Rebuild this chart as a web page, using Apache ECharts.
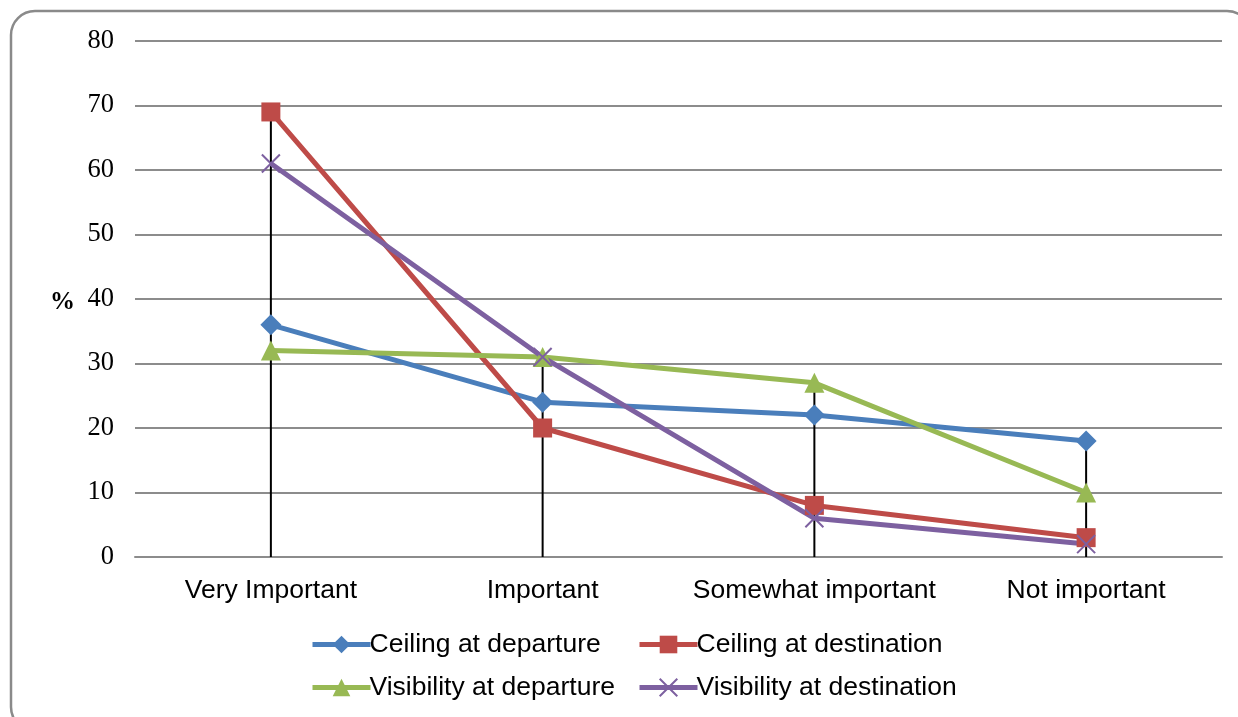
<!DOCTYPE html>
<html>
<head>
<meta charset="utf-8">
<script src="https://cdn.jsdelivr.net/npm/echarts@6/dist/echarts.min.js"></script>
<style>
  html, body { margin: 0; padding: 0; background: #ffffff; }
  #chart { width: 1238px; height: 717px; }
</style>
</head>
<body>
<div id="chart"></div>
<script>
// Importance ratings (%) per category
const categories = ['Very Important', 'Important', 'Somewhat important', 'Not important'];
const ceilingDeparture = [36, 24, 22, 18];
const ceilingDestination = [69, 20, 8, 3];
const visibilityDeparture = [32, 31, 27, 10];
const visibilityDestination = [61, 31, 6, 2];
const yTicks = [0, 10, 20, 30, 40, 50, 60, 70, 80];

// Drop lines run from each category's highest value down to zero
const dropTops = categories.map((_, i) =>
  Math.max(ceilingDeparture[i], ceilingDestination[i], visibilityDeparture[i], visibilityDestination[i]));

const crossPath = 'path://M0,0L10,10M10,0L0,10';

const chart = echarts.init(document.getElementById('chart'));

const sansFont = '"Liberation Sans", Arial, sans-serif';
const serifFont = '"Liberation Serif", "Times New Roman", serif';

function lineSeries(name, data, color, symbol, size, extraItem) {
  return {
    name: name,
    type: 'line',
    data: data,
    symbol: symbol,
    symbolSize: size,
    z: 3,
    lineStyle: { color: color, width: 5 },
    itemStyle: Object.assign({ color: color }, extraItem || {}),
    emphasis: { disabled: true }
  };
}

const legendCommon = {
  orient: 'vertical',
  top: 631,
  padding: 0,
  itemWidth: 58,
  itemHeight: 22,
  itemGap: 16,
  lineStyle: { width: 5 },
  textStyle: { fontFamily: sansFont, fontSize: 26.5, color: '#000000', padding: [0, 0, 0, -6] }
};

chart.setOption({
  animation: false,
  backgroundColor: '#ffffff',
  graphic: [{
    type: 'rect',
    shape: { x: 11, y: 11, width: 1240, height: 720, r: 24 },
    style: { fill: 'none', stroke: '#8a8a8a', lineWidth: 2.5 },
    z: -1,
    silent: true
  }, {
    type: 'text',
    left: 50,
    top: 290,
    style: { text: '%', font: 'bold 25px ' + serifFont, fill: '#000000' }
  }],
  grid: { left: 135, right: 16, top: 41, bottom: 160 },
  legend: [
    Object.assign({ left: 310, data: ['Ceiling at departure', 'Visibility at departure'] }, legendCommon),
    Object.assign({ left: 637, data: ['Ceiling at destination', 'Visibility at destination'] }, legendCommon)
  ],
  xAxis: {
    type: 'category',
    data: categories,
    boundaryGap: true,
    axisLine: { lineStyle: { color: '#8c8c8c', width: 2 } },
    axisTick: { show: false },
    axisLabel: { interval: 0, fontFamily: sansFont, fontSize: 26.5, color: '#000000', margin: 20 }
  },
  yAxis: {
    type: 'value',
    min: yTicks[0],
    max: yTicks[yTicks.length - 1],
    interval: 10,
    axisLine: { show: false },
    axisTick: { show: false },
    splitLine: { lineStyle: { color: '#8c8c8c', width: 2 } },
    axisLabel: { fontFamily: serifFont, fontSize: 26.5, color: '#000000', margin: 21 }
  },
  series: [{
    type: 'custom',
    name: 'drop',
    z: 2,
    silent: true,
    data: dropTops.map((v, i) => [i, v]),
    renderItem: function (params, api) {
      const top = api.coord([api.value(0), api.value(1)]);
      const bottom = api.coord([api.value(0), 0]);
      return {
        type: 'line',
        shape: { x1: top[0], y1: top[1], x2: bottom[0], y2: bottom[1] },
        style: { stroke: '#000000', lineWidth: 2 }
      };
    }
  },
    lineSeries('Ceiling at departure', ceilingDeparture, '#4A7EBB', 'diamond', 21),
    lineSeries('Ceiling at destination', ceilingDestination, '#BE4B48', 'rect', 19),
    lineSeries('Visibility at departure', visibilityDeparture, '#98B954', 'triangle', 20),
    lineSeries('Visibility at destination', visibilityDestination, '#7D60A0', crossPath, 18,
      { borderColor: '#7D60A0', borderWidth: 2 })
  ]
});
</script>
</body>
</html>
